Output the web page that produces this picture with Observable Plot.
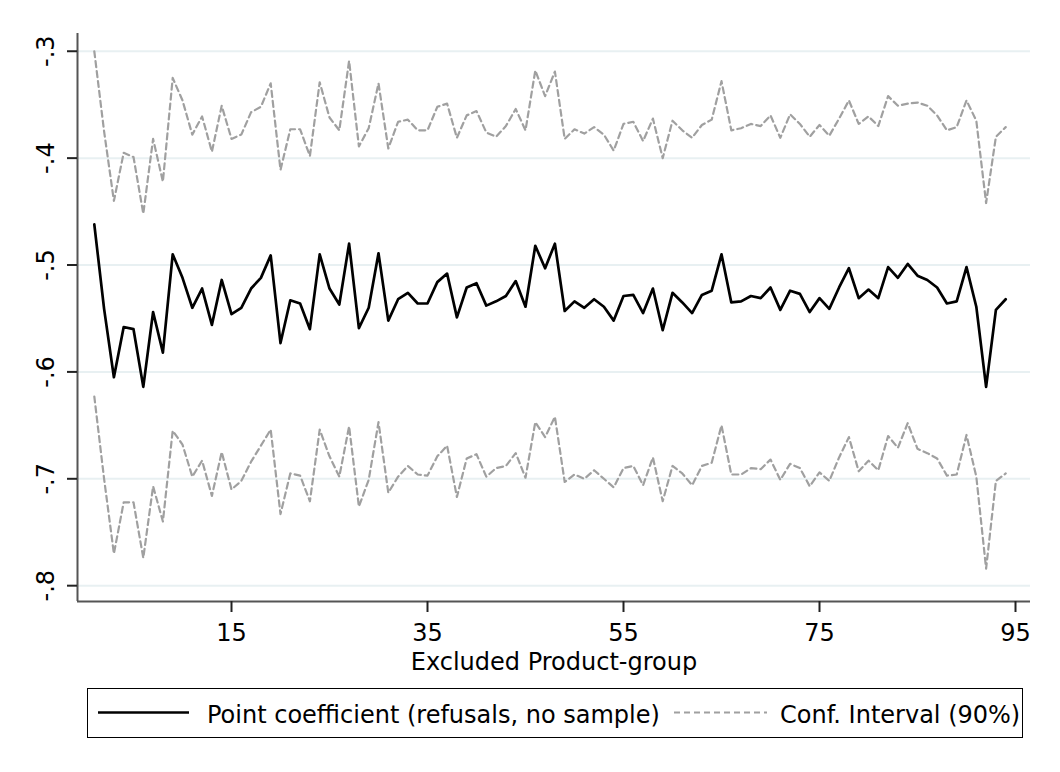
<!DOCTYPE html>
<html>
<head>
<meta charset="utf-8">
<script src="https://cdn.jsdelivr.net/npm/d3@7"></script>
<script src="https://cdn.jsdelivr.net/npm/@observablehq/plot@0.6"></script>
<style>
  body { margin: 0; background: #fff; font-family: "DejaVu Sans", sans-serif; }
  #wrap { position: relative; width: 1060px; height: 772px; background: #fff; }
  #legend { position: absolute; left: 87px; top: 688px; width: 936px; height: 50px;
            border: 1.5px solid #000; box-sizing: border-box; }
  #legend span { position: absolute; font-size: 24px; line-height: 24px; white-space: nowrap; color: #000; }
</style>
</head>
<body>
<div id="wrap"></div>
<script>
// Product groups (x categories)
const groups = [1,2,3,4,5,6,7,8,9,10,11,12,13,14,15,16,17,18,19,20,21,22,23,24,25,26,27,28,29,30,31,32,
  33,34,35,36,37,38,39,40,41,42,43,44,45,46,47,48,49,50,51,52,53,54,55,56,57,58,59,60,61,62,63,64,
  65,66,67,68,69,70,71,72,73,74,75,76,77,78,79,80,81,82,83,84,85,86,87,88,89,90,91,92,93,94];

// Point coefficient
const point = [-0.462,-0.541,-0.605,-0.558,-0.560,-0.614,-0.544,-0.582,-0.490,-0.512,-0.540,-0.522,-0.556,-0.514,-0.546,-0.540,
  -0.522,-0.512,-0.491,-0.573,-0.533,-0.536,-0.560,-0.490,-0.522,-0.537,-0.480,-0.559,-0.540,-0.489,-0.552,-0.532,
  -0.526,-0.536,-0.536,-0.516,-0.508,-0.549,-0.521,-0.517,-0.538,-0.534,-0.529,-0.515,-0.539,-0.482,-0.503,-0.480,
  -0.543,-0.534,-0.540,-0.532,-0.539,-0.552,-0.529,-0.528,-0.545,-0.522,-0.561,-0.526,-0.535,-0.545,-0.528,-0.524,
  -0.490,-0.535,-0.534,-0.529,-0.531,-0.521,-0.542,-0.524,-0.527,-0.544,-0.531,-0.541,-0.521,-0.503,-0.531,-0.523,
  -0.531,-0.502,-0.512,-0.499,-0.510,-0.514,-0.521,-0.536,-0.534,-0.502,-0.539,-0.614,-0.542,-0.532];

// Upper bound of the 90% confidence interval
const upper = [-0.300,-0.375,-0.440,-0.395,-0.399,-0.452,-0.382,-0.422,-0.325,-0.346,-0.378,-0.361,-0.394,-0.351,-0.382,-0.378,
  -0.357,-0.352,-0.330,-0.411,-0.373,-0.373,-0.398,-0.329,-0.362,-0.374,-0.309,-0.389,-0.372,-0.330,-0.391,-0.366,
  -0.364,-0.374,-0.374,-0.352,-0.349,-0.381,-0.360,-0.356,-0.376,-0.380,-0.370,-0.354,-0.374,-0.318,-0.342,-0.319,
  -0.382,-0.373,-0.377,-0.371,-0.378,-0.393,-0.368,-0.366,-0.384,-0.363,-0.400,-0.365,-0.374,-0.381,-0.369,-0.364,
  -0.328,-0.374,-0.372,-0.368,-0.370,-0.360,-0.381,-0.359,-0.368,-0.380,-0.369,-0.379,-0.363,-0.346,-0.368,-0.361,
  -0.370,-0.342,-0.351,-0.349,-0.348,-0.351,-0.360,-0.374,-0.371,-0.346,-0.365,-0.442,-0.380,-0.371];

// Lower bound of the 90% confidence interval
const lower = [-0.623,-0.700,-0.770,-0.722,-0.722,-0.774,-0.707,-0.740,-0.655,-0.668,-0.698,-0.683,-0.716,-0.675,-0.710,-0.702,
  -0.684,-0.669,-0.654,-0.733,-0.695,-0.697,-0.721,-0.654,-0.679,-0.698,-0.651,-0.726,-0.701,-0.647,-0.713,-0.698,
  -0.688,-0.696,-0.697,-0.679,-0.669,-0.717,-0.681,-0.677,-0.698,-0.690,-0.688,-0.676,-0.699,-0.647,-0.661,-0.642,
  -0.703,-0.696,-0.700,-0.692,-0.700,-0.708,-0.690,-0.688,-0.706,-0.680,-0.721,-0.688,-0.695,-0.706,-0.688,-0.685,
  -0.650,-0.696,-0.696,-0.690,-0.691,-0.682,-0.701,-0.686,-0.690,-0.707,-0.694,-0.702,-0.680,-0.661,-0.693,-0.683,
  -0.692,-0.660,-0.671,-0.648,-0.672,-0.676,-0.681,-0.697,-0.696,-0.659,-0.698,-0.784,-0.702,-0.695];

const xTicks = [15, 35, 55, 75, 95];
const yTicks = [-0.8, -0.7, -0.6, -0.5, -0.4, -0.3];
const yTickLabels = ["-.8", "-.7", "-.6", "-.5", "-.4", "-.3"];
const xLabel = "Excluded Product-group";
const legendLabels = ["Point coefficient (refusals, no sample)", "Conf. Interval (90%)"];

const table = groups.map((g, i) => ({g, point: point[i], hi: upper[i], lo: lower[i]}));

const xDomain = [-0.714, 96.53];
const yDomain = [-0.8148, -0.2834];

const chart = Plot.plot({
  width: 1060,
  height: 680,
  marginLeft: 77,
  marginTop: 33,
  marginRight: 30,
  marginBottom: 79,
  x: {domain: xDomain},
  y: {domain: yDomain},
  style: {fontFamily: "DejaVu Sans, sans-serif", fontSize: "24px", background: "white", color: "#000"},
  marks: [
    Plot.ruleY(yTicks, {stroke: "#e8f0f2", strokeWidth: 2}),
    Plot.line(table, {x: "g", y: "hi", stroke: "#a0a0a0", strokeWidth: 2.2, strokeDasharray: "6,4"}),
    Plot.line(table, {x: "g", y: "lo", stroke: "#a0a0a0", strokeWidth: 2.2, strokeDasharray: "6,4"}),
    Plot.line(table, {x: "g", y: "point", stroke: "#000", strokeWidth: 2.7}),
    Plot.ruleX([xDomain[0]], {stroke: "#555", strokeWidth: 2}),
    Plot.ruleY([yDomain[0]], {stroke: "#555", strokeWidth: 2}),
    Plot.axisX({ticks: xTicks, tickSize: 11, tickPadding: 11, fontSize: 24, label: null,
                stroke: "#222", strokeWidth: 2, tickFormat: d => String(d)}),
    Plot.axisY({ticks: yTicks, tickSize: 10, tickFormat: () => "", label: null, stroke: "#222", strokeWidth: 2}),
    Plot.text(yTicks, {y: d => d, text: (d, i) => yTickLabels[i], frameAnchor: "left", dx: -31,
                       rotate: -90, textAnchor: "middle", lineAnchor: "middle", fontSize: 24, fill: "#000"}),
    Plot.text([xLabel], {text: d => d, frameAnchor: "bottom", dy: 51, lineAnchor: "top", fontSize: 24, fill: "#000"})
  ]
});

const wrap = document.getElementById("wrap");
wrap.appendChild(chart);

const legend = document.createElement("div");
legend.id = "legend";
legend.innerHTML = `
  <svg width="933" height="47" style="position:absolute;left:0;top:0">
    <line x1="10" x2="101" y1="23.5" y2="23.5" stroke="#000" stroke-width="2.7"/>
    <line x1="586" x2="679" y1="23.5" y2="23.5" stroke="#a0a0a0" stroke-width="2.2" stroke-dasharray="6,4"/>
  </svg>
  <span style="left:119px;top:14px">${legendLabels[0]}</span>
  <span style="left:692px;top:14px">${legendLabels[1]}</span>`;
wrap.appendChild(legend);
</script>
</body>
</html>
